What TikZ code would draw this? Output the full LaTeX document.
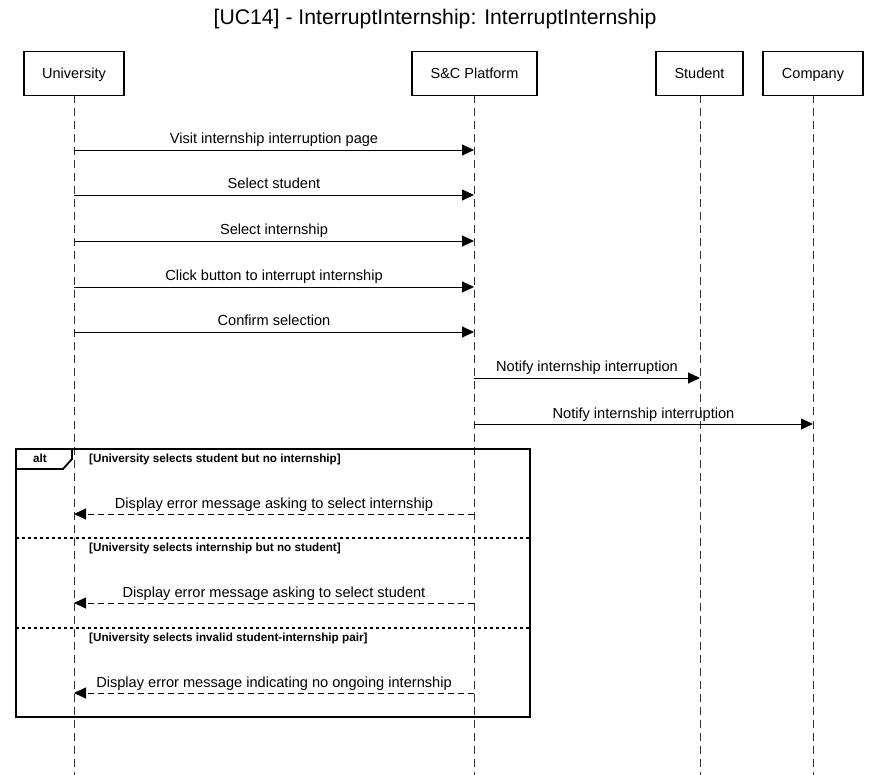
\documentclass[tikz,border=0pt]{standalone}
\usepackage{fontspec}
\setmainfont{Liberation Sans}
\usetikzlibrary{arrows.meta}
\begin{document}
\begin{tikzpicture}[x=1pt,y=-1pt,
  actor/.style={draw,line width=1.8pt,minimum height=44pt,inner sep=0pt,text height=10.4pt,text depth=0pt,font=\fontsize{14.5}{16}\selectfont},
  lifeline/.style={draw=black!80,line width=0.9pt,dash pattern=on 8pt off 5pt},
  msg/.style={line width=0.9pt,-{Triangle[length=12pt,width=11pt]}},
  ret/.style={line width=0.9pt,dash pattern=on 6pt off 4pt,-{Triangle[length=12pt,width=11pt]}},
  mlabel/.style={anchor=base,inner sep=0pt,font=\fontsize{14.6}{16}\selectfont},
  guard/.style={anchor=base west,inner sep=0pt,font=\bfseries\fontsize{11.7}{13}\selectfont},
  sep/.style={line width=1.6pt,dash pattern=on 3pt off 3pt}]
\useasboundingbox (0,0) rectangle (870,775);
\node[inner sep=0pt,anchor=base,font=\fontsize{21.2}{24}\selectfont] (title) at (435,25) {[UC14] - InterruptInternship: InterruptInternship};
% actors
\node[actor,minimum width=100pt] (uni) at (74,73.5) {University};
\node[actor,minimum width=125pt] (sc) at (474.5,73.5) {S\&C Platform};
\node[actor,minimum width=87pt] (stu) at (699.5,73.5) {Student};
\node[actor,minimum width=100pt] (com) at (813,73.5) {Company};
% lifeline ends
\coordinate (uniE) at (74,775);
\coordinate (scE) at (474,775);
\coordinate (stuE) at (700,775);
\coordinate (comE) at (813,775);
\draw[lifeline] (74,95.5) -- (uniE);
\draw[lifeline] (474,95.5) -- (scE);
\draw[lifeline] (700,95.5) -- (stuE);
\draw[lifeline] (813,95.5) -- (comE);
% message coordinates
\foreach \n/\y in {1/150,2/195,3/241,4/287,5/332,6/378,7/424,8/514,9/603,10/693}{
  \coordinate (u\n) at (74,\y);
  \coordinate (s\n) at (474,\y);
  \coordinate (t\n) at (700,\y);
  \coordinate (c\n) at (813,\y);
}
\draw[msg] (u1) -- (s1) node[mlabel,pos=0.5,yshift=6pt] (l1) {Visit internship interruption page};
\draw[msg] (u2) -- (s2) node[mlabel,pos=0.5,yshift=6pt] (l2) {Select student};
\draw[msg] (u3) -- (s3) node[mlabel,pos=0.5,yshift=6pt] (l3) {Select internship};
\draw[msg] (u4) -- (s4) node[mlabel,pos=0.5,yshift=6pt] (l4) {Click button to interrupt internship};
\draw[msg] (u5) -- (s5) node[mlabel,pos=0.5,yshift=6pt] (l5) {Confirm selection};
\draw[msg] (s6) -- (t6) node[mlabel,pos=0.5,yshift=6pt] (l6) {Notify internship interruption};
\draw[msg] (s7) -- (c7) node[mlabel,pos=0.5,yshift=6pt] (l7) {Notify internship interruption};
% alt fragment
\draw[line width=1.8pt] (16,449) rectangle (530,717);
\draw[line width=1.8pt] (16,469) -- (63,469) -- (72,459) -- (72,449);
\node[inner sep=0pt,anchor=base,font=\bfseries\fontsize{11.7}{13}\selectfont] (alt) at (40,462) {alt};
\node[guard] (g1) at (89,462) {[University selects student but no internship]};
\draw[sep] (16,538) -- (530,538);
\node[guard] (g2) at (89,551) {[University selects internship but no student]};
\draw[sep] (16,628) -- (530,628);
\node[guard] (g3) at (89,641) {[University selects invalid student-internship pair]};
\draw[ret] (s8) -- (u8) node[mlabel,pos=0.5,yshift=6pt] (l8) {Display error message asking to select internship};
\draw[ret] (s9) -- (u9) node[mlabel,pos=0.5,yshift=6pt] (l9) {Display error message asking to select student};
\draw[ret] (s10) -- (u10) node[mlabel,pos=0.5,yshift=6pt] (l10) {Display error message indicating no ongoing internship};
\end{tikzpicture}
\end{document}
